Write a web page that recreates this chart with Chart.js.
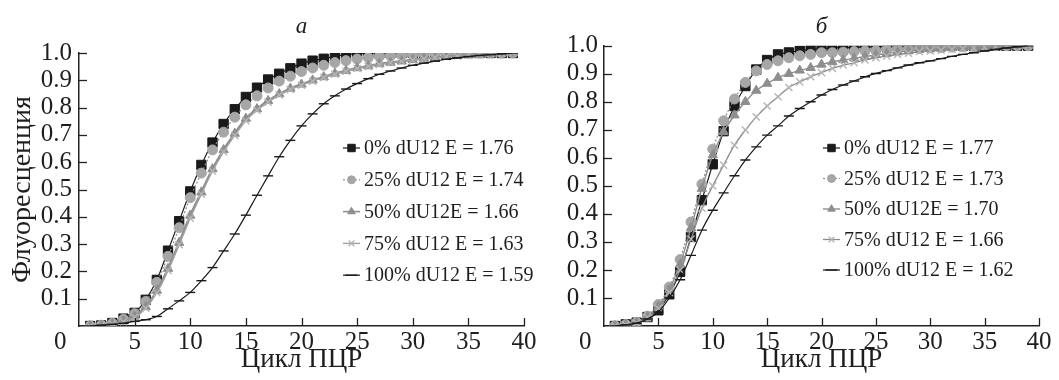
<!DOCTYPE html>
<html>
<head>
<meta charset="utf-8">
<script src="https://cdn.jsdelivr.net/npm/chart.js@4/dist/chart.umd.min.js"></script>
<style>
  html, body { margin: 0; padding: 0; background: #fff; }
  #wrap { position: relative; width: 1059px; height: 380px; overflow: hidden; }
  canvas { display: block; position: absolute; top: 0; }
  #chartA { left: 0; z-index: 2; }
  #chartB { left: 530px; z-index: 1; }
</style>
</head>
<body>
<div id="wrap">
  <canvas id="chartA" width="560" height="380"></canvas>
  <canvas id="chartB" width="529" height="380"></canvas>
</div>
<script>
// ---- data ----
const cycles = [1,2,3,4,5,6,7,8,9,10,11,12,13,14,15,16,17,18,19,20,21,22,23,24,25,26,27,28,29,30,31,32,33,34,35,36,37,38,39];

const xTicks = [0, 5, 10, 15, 20, 25, 30, 35, 40];
const yTicks = [0.1, 0.2, 0.3, 0.4, 0.5, 0.6, 0.7, 0.8, 0.9, 1.0];

const panelTitles = ['a', 'б'];
const yTitle = 'Флуоресценция';
const xTitle = 'Цикл ПЦР';

const legendA = ['0% dU12 E = 1.76', '25% dU12 E = 1.74', '50% dU12E = 1.66', '75% dU12 E = 1.63', '100% dU12 E = 1.59'];
const legendB = ['0% dU12 E = 1.77', '25% dU12 E = 1.73', '50% dU12E = 1.70', '75% dU12 E = 1.66', '100% dU12 E = 1.62'];

// panel a
const a0   = [0,0.002,0.011,0.027,0.048,0.096,0.169,0.276,0.384,0.493,0.590,0.672,0.740,0.794,0.839,0.873,0.903,0.924,0.944,0.961,0.972,0.979,0.988,0.994,0.998,1,1,1,1,1,1,1,1,1,1,1,1,1,1];
const a25  = [0,0.003,0.010,0.025,0.045,0.090,0.160,0.255,0.360,0.470,0.560,0.645,0.710,0.765,0.810,0.843,0.872,0.897,0.915,0.932,0.945,0.955,0.965,0.972,0.978,0.983,0.987,0.990,0.993,0.995,0.997,0.998,0.999,1,1,1,1,1,1];
const a50  = [0,0.002,0.008,0.018,0.035,0.070,0.130,0.210,0.305,0.405,0.490,0.575,0.645,0.705,0.760,0.795,0.825,0.850,0.870,0.885,0.900,0.912,0.925,0.935,0.945,0.952,0.960,0.965,0.970,0.975,0.980,0.983,0.987,0.990,0.993,0.995,0.997,0.999,1.0];
const a75  = [0,0.002,0.007,0.016,0.032,0.065,0.122,0.203,0.298,0.395,0.483,0.568,0.638,0.698,0.752,0.790,0.820,0.846,0.866,0.882,0.897,0.910,0.922,0.933,0.943,0.951,0.958,0.964,0.969,0.974,0.979,0.983,0.986,0.989,0.992,0.995,0.997,0.999,1.0];
const a100 = [0,0.003,0.006,0.010,0.017,0.023,0.035,0.063,0.092,0.123,0.166,0.214,0.275,0.337,0.406,0.479,0.550,0.620,0.680,0.733,0.777,0.814,0.843,0.868,0.888,0.906,0.922,0.934,0.945,0.955,0.963,0.970,0.977,0.982,0.987,0.991,0.994,0.997,1.0];

// panel б
const b0   = [0,0.006,0.012,0.032,0.056,0.113,0.193,0.318,0.449,0.577,0.695,0.785,0.856,0.915,0.949,0.969,0.976,0.982,0.987,0.989,0.993,0.993,0.994,0.996,0.996,0.999,1,1,1,1,1,1,1,1,1,1,1,1,1];
const b25  = [0,0.005,0.013,0.035,0.077,0.139,0.237,0.371,0.506,0.631,0.732,0.810,0.869,0.910,0.933,0.946,0.957,0.964,0.969,0.975,0.975,0.977,0.979,0.981,0.982,0.985,0.987,0.988,0.990,0.992,0.993,0.995,0.996,0.997,0.998,1,1,1,1];
const b50  = [0,0.005,0.012,0.033,0.070,0.130,0.220,0.350,0.490,0.610,0.693,0.752,0.800,0.840,0.865,0.886,0.900,0.912,0.921,0.933,0.942,0.949,0.955,0.961,0.967,0.972,0.977,0.981,0.985,0.988,0.990,0.992,0.994,0.996,0.997,0.998,0.999,1.0,1.0];
const b75  = [0,0.004,0.010,0.030,0.063,0.120,0.200,0.310,0.420,0.500,0.574,0.645,0.699,0.746,0.785,0.818,0.851,0.871,0.889,0.904,0.919,0.931,0.939,0.949,0.957,0.963,0.969,0.973,0.979,0.981,0.984,0.987,0.989,0.992,0.994,0.996,0.998,0.999,1.0];
const b100 = [0,0.004,0.010,0.025,0.050,0.100,0.165,0.252,0.342,0.413,0.475,0.536,0.592,0.639,0.681,0.714,0.749,0.776,0.800,0.824,0.844,0.860,0.874,0.889,0.901,0.911,0.921,0.931,0.939,0.946,0.954,0.962,0.969,0.975,0.981,0.987,0.992,0.996,1.0];

// ---- styling ----
const FONT = "'Liberation Serif', 'Times New Roman', serif";
const TEXT = '#1e1e1e';

const seriesStyles = [
  { color: '#1a1a1a', line: '#1a1a1a', width: 1.2, dash: [], pointStyle: 'rect', radius: 6.6 },
  { color: '#a6a6a6', line: '#8a8a8a', width: 1.2, dash: [2, 2], pointStyle: 'circle', radius: 5 },
  { color: '#8e8e8e', line: '#8e8e8e', width: 2.4, dash: [], pointStyle: 'triangle', radius: 5.4 },
  { color: '#b4b4b4', line: '#a0a0a0', width: 1.4, dash: [], pointStyle: 'crossRot', radius: 5 },
  { color: '#1a1a1a', line: '#1a1a1a', width: 1.2, dash: [], pointStyle: 'line', radius: 5 }
];

function buildDatasets(seriesList, labels, widths, lineColors) {
  return seriesList.map((vals, i) => {
    const s = seriesStyles[i];
    return {
      label: labels[i],
      data: cycles.map((c, k) => ({ x: c, y: vals[k] })),
      borderColor: lineColors ? lineColors[i] : s.line,
      borderWidth: widths ? widths[i] : s.width,
      borderDash: s.dash,
      backgroundColor: s.color,
      pointStyle: s.pointStyle,
      pointRadius: s.radius,
      pointBackgroundColor: s.color,
      pointBorderColor: s.color,
      pointBorderWidth: (s.pointStyle === 'crossRot' || s.pointStyle === 'line') ? 1.4 : 1,
      cubicInterpolationMode: 'monotone',
      fill: false,
      order: 5 - i
    };
  });
}

// inner tick marks
const innerTicks = {
  id: 'innerTicks',
  afterDraw(chart) {
    const { ctx } = chart;
    const xs = chart.scales.x, ys = chart.scales.y;
    ctx.save();
    ctx.strokeStyle = '#222';
    ctx.lineWidth = 1.3;
    xTicks.forEach(v => {
      if (v === 0) return;
      const px = Math.round(xs.getPixelForValue(v)) + 0.5;
      ctx.beginPath();
      ctx.moveTo(px, ys.bottom);
      ctx.lineTo(px, ys.bottom - 8);
      ctx.stroke();
    });
    yTicks.forEach(v => {
      const py = Math.round(ys.getPixelForValue(v)) + 0.5;
      ctx.beginPath();
      ctx.moveTo(xs.left, py);
      ctx.lineTo(xs.left + 8, py);
      ctx.stroke();
    });
    ctx.restore();
  }
};

// legend inside plot
const innerLegend = {
  id: 'innerLegend',
  afterDraw(chart, args, opts) {
    const { ctx } = chart;
    ctx.save();
    chart.data.datasets.forEach((ds, i) => {
      const y = opts.y0 + i * opts.dy;
      const x = opts.x;
      ctx.strokeStyle = ds.borderColor;
      ctx.lineWidth = Math.min(ds.borderWidth, 1.6);
      ctx.setLineDash(ds.borderDash || []);
      ctx.beginPath();
      ctx.moveTo(x, y);
      ctx.lineTo(x + 17, y);
      ctx.stroke();
      ctx.setLineDash([]);
      ctx.fillStyle = ds.pointBackgroundColor;
      ctx.strokeStyle = ds.pointBorderColor;
      ctx.lineWidth = ds.pointBorderWidth;
      Chart.helpers.drawPoint(ctx, {
        pointStyle: ds.pointStyle,
        radius: ds.pointStyle === 'line' ? 6 : ds.pointRadius * 0.8,
        rotation: 0,
        borderWidth: ds.pointBorderWidth
      }, x + 8.5, y);
      ctx.fillStyle = TEXT;
      ctx.font = '20px ' + FONT;
      ctx.textBaseline = 'middle';
      ctx.textAlign = 'left';
      ctx.fillText(ds.label, x + 21, y + 1);
    });
    ctx.restore();
  }
};

function makeChart(id, cfg) {
  return new Chart(document.getElementById(id), {
    type: 'line',
    data: { datasets: cfg.datasets },
    plugins: [innerTicks, innerLegend],
    options: {
      responsive: false,
      animation: false,
      devicePixelRatio: 1,
      layout: { padding: { top: 0, right: cfg.rightPad, left: 0, bottom: 0 } },
      plugins: {
        legend: { display: false },
        tooltip: { enabled: false },
        title: {
          display: true,
          text: cfg.title,
          fullSize: false,
          color: TEXT,
          font: { family: FONT, size: 23, style: 'italic', weight: 'normal' },
          padding: { top: 13, bottom: cfg.titleBottom }
        },
        innerLegend: cfg.legend
      },
      scales: {
        x: {
          type: 'linear',
          min: 0, max: 40,
          afterBuildTicks: s => { s.ticks = xTicks.map(v => ({ value: v })); },
          afterFit: s => { s.height = 54; },
          grid: { display: false, drawTicks: false },
          border: { display: true, color: '#222', width: 1.5 },
          ticks: {
            padding: 1,
            autoSkip: false,
            color: TEXT,
            font: { family: FONT, size: 25 },
            maxRotation: 0,
            callback: v => v === 0 ? '0      ' : String(v)
          },
          title: {
            display: true,
            text: xTitle,
            color: TEXT,
            font: { family: FONT, size: 27 },
            padding: { top: 0, bottom: 4 }
          }
        },
        y: {
          type: 'linear',
          min: 0, max: 1,
          afterBuildTicks: s => { s.ticks = [{ value: 0 }].concat(yTicks.map(v => ({ value: v }))); },
          afterFit: s => { s.width = cfg.yWidth; },
          grid: { display: false, drawTicks: false },
          border: { display: true, color: '#222', width: 1.5 },
          ticks: {
            padding: cfg.yPad,
            autoSkip: false,
            color: TEXT,
            font: { family: FONT, size: 25 },
            callback: v => v === 0 ? '' : Number(v).toFixed(1)
          },
          title: {
            display: cfg.showYTitle,
            text: yTitle,
            color: TEXT,
            font: { family: FONT, size: 28 },
            padding: { top: 6, bottom: 0 }
          }
        }
      }
    }
  });
}

makeChart('chartA', {
  datasets: buildDatasets([a0, a25, a50, a75, a100], legendA),
  title: panelTitles[0],
  titleBottom: 12.4,
  rightPad: 36,
  yWidth: 79,
  yPad: 7,
  showYTitle: true,
  legend: { x: 343, y0: 148, dy: 31.8 }
});

makeChart('chartB', {
  datasets: buildDatasets([b0, b25, b50, b75, b100], legendB, [1.2, 1.2, 1.4, 1.3, 1.2], ['#1a1a1a', '#8a8a8a', '#8e8e8e', '#8a8a8a', '#1a1a1a']),
  title: panelTitles[1],
  titleBottom: 5.1,
  rightPad: 20,
  yWidth: 74,
  yPad: 6,
  showYTitle: false,
  legend: { x: 293, y0: 148, dy: 30.5 }
});
</script>
</body>
</html>
